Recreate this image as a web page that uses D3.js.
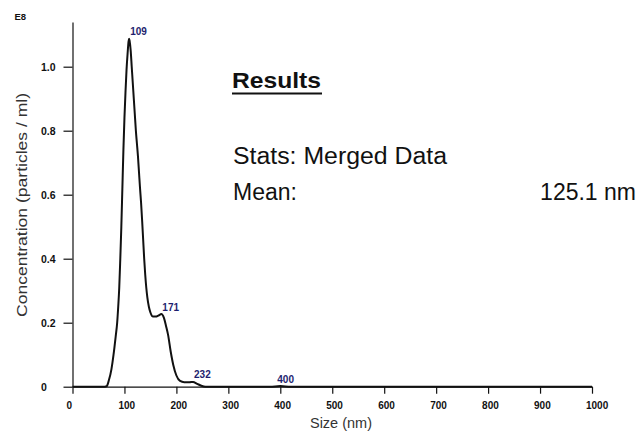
<!DOCTYPE html>
<html><head><meta charset="utf-8">
<script src="https://cdn.jsdelivr.net/npm/d3@7"></script>
<style>
html,body{margin:0;padding:0;background:#fff;}
svg{display:block;}
</style></head>
<body>
<svg id="chart" width="643" height="435"></svg>
<script>
// ---- data ----
const sizes = [0, 50, 62, 66, 70, 75, 79, 83, 86, 88, 90, 92, 94, 96, 98, 100, 102, 104, 106, 108, 109,
  110, 112, 114, 116, 118, 120, 122, 124, 126, 128, 130, 132, 134, 136, 138, 140, 142, 144, 147, 150, 155,
  160, 166, 171, 176, 180, 184, 189, 194, 200, 207, 215, 225, 232, 240, 248, 256, 300, 380, 400, 420, 500, 1000];
const concentration = [0, 0, 0, 0.002, 0.02, 0.055, 0.10, 0.155, 0.20, 0.25, 0.31, 0.40, 0.50, 0.62, 0.74, 0.84, 0.92, 0.99, 1.04, 1.08, 1.087,
  1.08, 1.05, 1.00, 0.95, 0.90, 0.85, 0.80, 0.76, 0.72, 0.67, 0.62, 0.575, 0.52, 0.46, 0.40, 0.35, 0.31, 0.28, 0.25, 0.232, 0.219,
  0.219, 0.223, 0.227, 0.215, 0.19, 0.162, 0.11, 0.068, 0.035, 0.018, 0.014, 0.014, 0.015, 0.009, 0.003, 0, 0, 0, 0.002, 0, 0, 0];
const peakSizes = [109, 171, 232, 400];
const peakLabels = ["109", "171", "232", "400"];
const peakValues = [1.087, 0.227, 0.015, 0.002];
const xTicks = [0, 100, 200, 300, 400, 500, 600, 700, 800, 900, 1000];
const xTickLabels = ["0", "100", "200", "300", "400", "500", "600", "700", "800", "900", "1000"];
const yTicks = [0, 0.2, 0.4, 0.6, 0.8, 1.0];
const yTickLabels = ["0", "0.2", "0.4", "0.6", "0.8", "1.0"];
const yExponent = "E8";
const xTitle = "Size (nm)";
const yTitle = "Concentration (particles / ml)";
const resultsTitle = "Results";
const statsLine = "Stats: Merged Data";
const meanLabel = "Mean:";
const meanValue = "125.1 nm";

// ---- layout ----
const svg = d3.select("#chart");
const x = d3.scaleLinear().domain([0, 1000]).range([72.5, 592]);
const y = d3.scaleLinear().domain([0, 1.14]).range([386.7, 21.9]);
const tickFont = "'Liberation Sans', Arial, sans-serif";

// x axis
const xAxis = d3.axisBottom(x).tickValues(xTicks).tickSize(7).tickSizeOuter(0)
  .tickFormat((d, i) => xTickLabels[i]);
const gx = svg.append("g").attr("transform", `translate(0,${y(0)})`).call(xAxis);
gx.select(".domain").attr("stroke", "#111").attr("stroke-width", 1.3);
gx.selectAll(".tick line").attr("stroke", "#111").attr("stroke-width", 1.2);
gx.selectAll(".tick text").attr("text-anchor", "start").attr("x", -6.5).attr("y", 22.5).attr("dy", 0)
  .attr("font-family", tickFont).attr("font-size", 10).attr("font-weight", "bold").attr("fill", "#111");

// y axis
const yAxis = d3.axisLeft(y).tickValues(yTicks).tickSize(9).tickSizeOuter(0)
  .tickFormat((d, i) => yTickLabels[i]);
const gy = svg.append("g").attr("transform", `translate(${x(0)},0)`).call(yAxis);
gy.select(".domain").attr("stroke", "#111").attr("stroke-width", 1.2);
gy.selectAll(".tick line").attr("stroke", "#111").attr("stroke-width", 1.2);
gy.selectAll(".tick text").attr("text-anchor", "start").attr("x", -31.5).attr("dy", "0.34em")
  .attr("font-family", tickFont).attr("font-size", 10.5).attr("font-weight", "bold").attr("fill", "#111");

svg.append("text").attr("x", 14.5).attr("y", 19.5).text(yExponent)
  .attr("font-family", tickFont).attr("font-size", 9.5).attr("font-weight", "bold").attr("fill", "#111");

// curve
const pts = sizes.map((s, i) => [s, concentration[i]]);
const line = d3.line().x(d => x(d[0])).y(d => y(d[1])).curve(d3.curveMonotoneX);
svg.append("path").datum(pts).attr("d", line).attr("fill", "none")
  .attr("stroke", "#111").attr("stroke-width", 2).attr("stroke-linejoin", "round");

// peak labels
svg.selectAll(".peak").data(peakSizes).enter().append("text")
  .attr("x", (d, i) => x(d) + (i === 3 ? -3 : 1)).attr("y", (d, i) => y(peakValues[i]) - 3.5)
  .text((d, i) => peakLabels[i])
  .attr("font-family", tickFont).attr("font-size", 10).attr("font-weight", "bold").attr("fill", "#1e1e6e");

// axis titles
const titleFont = "'Liberation Sans', Arial, sans-serif";
svg.append("text").attr("x", 341).attr("y", 428).attr("text-anchor", "middle").text(xTitle)
  .attr("font-family", titleFont).attr("font-size", 14.5).attr("fill", "#333");
svg.append("text").attr("transform", "translate(27,205) rotate(-90)").attr("text-anchor", "middle").text(yTitle)
  .attr("font-family", titleFont).attr("font-size", 15).attr("fill", "#333")
  .attr("textLength", 224).attr("lengthAdjust", "spacingAndGlyphs");

// results box text
svg.append("text").attr("x", 232).attr("y", 88).text(resultsTitle)
  .attr("font-family", titleFont).attr("font-size", 22).attr("font-weight", "bold").attr("fill", "#111")
  .attr("textLength", 89).attr("lengthAdjust", "spacingAndGlyphs");
svg.append("line").attr("x1", 232).attr("x2", 322).attr("y1", 93.5).attr("y2", 93.5)
  .attr("stroke", "#111").attr("stroke-width", 2);
svg.append("text").attr("x", 233).attr("y", 164).text(statsLine)
  .attr("font-family", titleFont).attr("font-size", 23).attr("fill", "#111")
  .attr("textLength", 214).attr("lengthAdjust", "spacingAndGlyphs");
svg.append("text").attr("x", 233).attr("y", 200).text(meanLabel)
  .attr("font-family", titleFont).attr("font-size", 23).attr("fill", "#111");
svg.append("text").attr("x", 636).attr("y", 200).attr("text-anchor", "end").text(meanValue)
  .attr("font-family", titleFont).attr("font-size", 23).attr("fill", "#111");
</script>
</body></html>
